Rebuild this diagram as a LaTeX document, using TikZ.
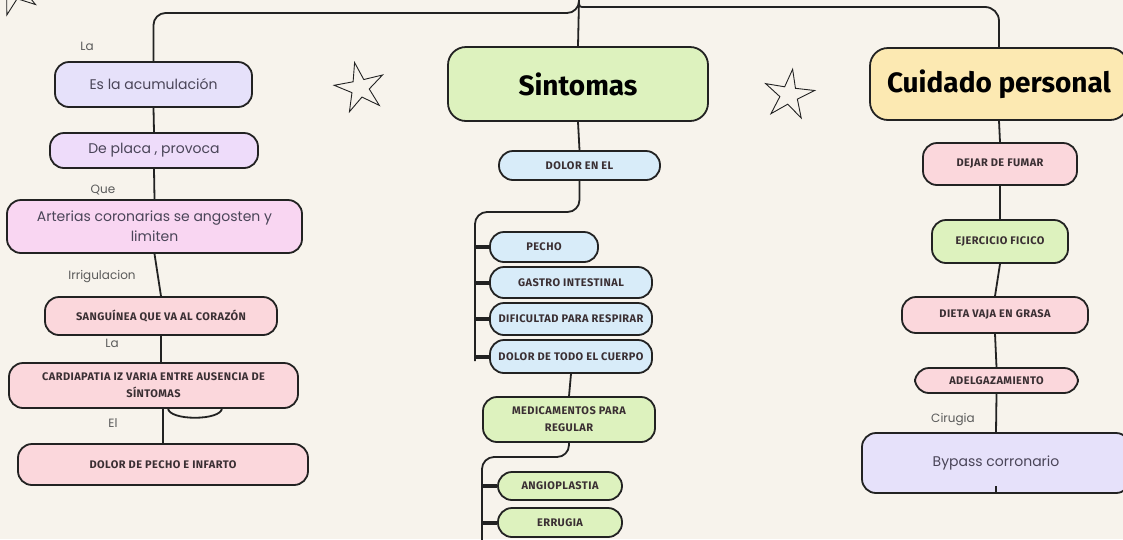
\documentclass[tikz,border=0pt]{standalone}
\usepackage{fontspec}
\setmainfont{Poppins}
\newfontfamily\capsfam[LetterSpace=4]{Fira Sans}
\newfontfamily\headfam{Fira Sans}
\usetikzlibrary{shapes.geometric}

\definecolor{bgcol}{HTML}{F7F3EC}
\definecolor{linecol}{HTML}{222222}
\definecolor{lavcol}{HTML}{E6E1FA}
\definecolor{lilcol}{HTML}{EEDCFA}
\definecolor{rosecol}{HTML}{F9D6F2}
\definecolor{pinkcol}{HTML}{FBD7DC}
\definecolor{greencol}{HTML}{DDF2BE}
\definecolor{bluecol}{HTML}{D8ECF9}
\definecolor{yelcol}{HTML}{FCE9B2}
\definecolor{txtcol}{HTML}{4A4558}
\definecolor{capcol}{HTML}{3A2F33}
\definecolor{lblcol}{HTML}{5A5A5A}

\tikzset{
    box/.style={draw=linecol, line width=1.8pt, rounded corners=14pt, align=center, inner sep=2pt},
    plain/.style={box, text=txtcol, font=\fontsize{14}{20}\selectfont},
    caps/.style={box, text=capcol, font=\capsfam\bfseries\fontsize{11}{17}\selectfont},
    title/.style={box, rounded corners=18pt, text=black, font=\headfam\bfseries\fontsize{28}{30}\selectfont},
    lbl/.style={text=lblcol, font=\fontsize{12}{14}\selectfont},
    link/.style={draw=linecol, line width=1.8pt},
    tick/.style={draw=linecol, line width=4pt},
    starmark/.style={star, star points=5, star point ratio=2.8, draw=linecol, line width=0.9pt, minimum size=52pt}
}

\begin{document}
\begin{tikzpicture}[x=1pt, y=-1pt]
    \useasboundingbox (0,0) rectangle (1123,539);
    \fill[bgcol] (0,0) rectangle (1123,539);
    \clip (0,0) rectangle (1123,539);

    \node[plain, fill=lavcol, minimum width=197pt, minimum height=45pt] (acum) at (153.5,84.5) {Es la acumulación};
    \node[plain, fill=lilcol, minimum width=208pt, minimum height=35pt] (placa) at (154,150.5) {De placa , provoca};
    \node[plain, fill=rosecol, minimum width=295pt, minimum height=53pt] (arter) at (154.5,226.5) {Arterias coronarias se angosten y\\limiten};
    \node[caps, fill=pinkcol, minimum width=232pt, minimum height=38pt] (sangre) at (161,316) {SANGUÍNEA QUE VA AL CORAZÓN};
    \node[caps, fill=pinkcol, minimum width=289pt, minimum height=45pt] (cardio) at (153.5,385.5) {CARDIAPATIA IZ VARIA ENTRE AUSENCIA DE\\SÍNTOMAS};
    \node[caps, fill=pinkcol, minimum width=290pt, minimum height=41pt] (infarto) at (163,464.5) {DOLOR DE PECHO E INFARTO};

    \node[lbl] (lblLa) at (87,46) {La};
    \node[lbl] (lblQue) at (103,190) {Que};
    \node[lbl] (lblIrr) at (102,277) {Irrigulacion};
    \node[lbl] (lblLaB) at (112,343) {La};
    \node[lbl] (lblEl) at (113,423) {El};
    \node[lbl] (lblCir) at (953,420) {Cirugia};

    \node[title, fill=greencol, minimum width=260pt, minimum height=74pt] (sint) at (578,84) {Sintomas};
    \node[caps, fill=bluecol, minimum width=161pt, minimum height=29pt] (dolorEl) at (579.5,165.5) {DOLOR EN EL};
    \node[caps, fill=bluecol, minimum width=108pt, minimum height=30pt] (pecho) at (544,247) {PECHO};
    \node[caps, fill=bluecol, minimum width=162pt, minimum height=31pt] (gastro) at (571,282.5) {GASTRO INTESTINAL};
    \node[caps, fill=bluecol, minimum width=162pt, minimum height=32pt] (dific) at (571,319) {DIFICULTAD PARA RESPIRAR};
    \node[caps, fill=bluecol, minimum width=162pt, minimum height=33pt] (todo) at (571,356.5) {DOLOR DE TODO EL CUERPO};
    \node[caps, fill=greencol, minimum width=172pt, minimum height=45pt] (medic) at (569,419.5) {MEDICAMENTOS PARA\\REGULAR};
    \node[caps, fill=greencol, minimum width=124pt, minimum height=28pt] (angio) at (560,486) {ANGIOPLASTIA};
    \node[caps, fill=greencol, minimum width=124pt, minimum height=29pt] (errugia) at (560,522.5) {ERRUGIA};

    \node[title, fill=yelcol, minimum width=258pt, minimum height=72pt] (cuid) at (999,84) {Cuidado personal};
    \node[caps, fill=pinkcol, minimum width=154pt, minimum height=42pt] (fumar) at (1000,164) {DEJAR DE FUMAR};
    \node[caps, fill=greencol, minimum width=136pt, minimum height=43pt] (ejer) at (1000,241.5) {EJERCICIO FICICO};
    \node[caps, fill=pinkcol, minimum width=186pt, minimum height=36pt] (dieta) at (995,315) {DIETA VAJA EN GRASA};
    \node[caps, fill=pinkcol, minimum width=163pt, minimum height=25pt] (adelg) at (996.5,380.5) {ADELGAZAMIENTO};
    \node[plain, fill=lavcol, minimum width=268pt, minimum height=60pt] (bypass) at (996,463) {Bypass corronario};

    \node[starmark, rotate=12] (starA) at (360,88) {};
    \node[starmark, rotate=-8] (starB) at (789,95) {};
    \node[starmark, rotate=20] (starC) at (14,-10) {};

    \coordinate (top) at (579,0);
    \coordinate (topL) at (579,13);
    \coordinate (topR) at (599,7);
    \coordinate (busA) at (475,212);
    \coordinate (busAend) at (475,361);
    \coordinate (busB) at (482,457);
    \coordinate (busBend) at (482,545);
    \coordinate (loopA) at (168,408);
    \coordinate (loopB) at (222,408);

    \draw[link, rounded corners=12pt] (acum.north) |- (topL) -- (top);
    \draw[link] (top) -- (sint.north);
    \draw[link, rounded corners=14pt] (top) .. controls (top |- topR) .. (topR) -| (cuid.north);

    \draw[link] (acum.south) -- (placa.north);
    \draw[link] (placa.south) -- (arter.north);
    \draw[link] (arter.south) -- (sangre.north);
    \draw[link] (sangre.south) -- (sangre.south |- cardio.north);
    \draw[link] (infarto.north |- cardio.south) -- (infarto.north);
    \draw[link] (loopA) .. controls (168,421) and (222,421) .. (loopB);

    \draw[link] (sint.south) -- (dolorEl.north);
    \draw[link, rounded corners=12pt] (dolorEl.south) |- (busA) -- (busAend);
    \foreach \n in {pecho,gastro,dific,todo}
        \draw[tick] (\n.west) -- (\n.west -| busA);
    \draw[link] (todo.south) -- (medic.north);
    \draw[link, rounded corners=12pt] (medic.south) |- (busB) -- (busBend);
    \foreach \n in {angio,errugia}
        \draw[tick] (\n.west) -- (\n.west -| busB);

    \draw[link] (cuid.south) -- (fumar.north);
    \draw[link] (fumar.south) -- (ejer.north);
    \draw[link] (ejer.south) -- (dieta.north);
    \draw[link] (dieta.south) -- (adelg.north);
    \draw[link] (adelg.south) -- (bypass.north);
    \draw[link] (bypass.south) -- ++(0,-8);
\end{tikzpicture}
\end{document}
